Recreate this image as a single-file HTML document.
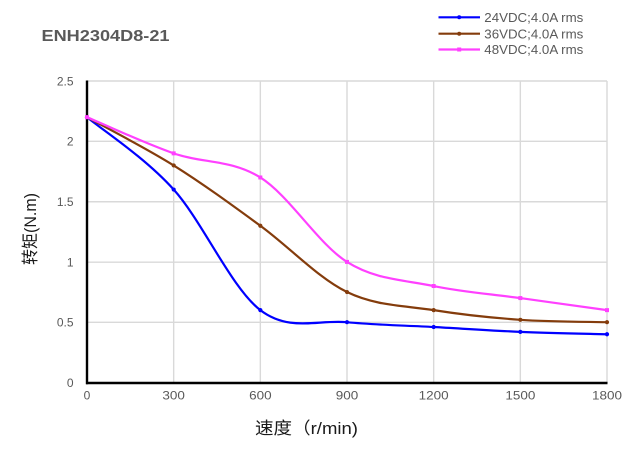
<!DOCTYPE html>
<html>
<head>
<meta charset="utf-8">
<style>
html,body{margin:0;padding:0;background:#fff;}
svg{display:block;}
text{font-family:"Liberation Sans","Noto Sans CJK SC",sans-serif;}
</style>
</head>
<body>
<svg id="chart" width="640" height="450" viewBox="0 0 640 450" xmlns="http://www.w3.org/2000/svg">
<rect width="640" height="450" fill="#fff"/>
<!-- gridlines -->
<g stroke="#d9d9d9" stroke-width="1.4" fill="none">
<line x1="87" y1="81" x2="607" y2="81"/>
<line x1="87" y1="141.3" x2="607" y2="141.3"/>
<line x1="87" y1="201.75" x2="607" y2="201.75"/>
<line x1="87" y1="262.2" x2="607" y2="262.2"/>
<line x1="87" y1="322.3" x2="607" y2="322.3"/>
<line x1="173.67" y1="81" x2="173.67" y2="383"/>
<line x1="260.33" y1="81" x2="260.33" y2="383"/>
<line x1="347" y1="81" x2="347" y2="383"/>
<line x1="433.67" y1="81" x2="433.67" y2="383"/>
<line x1="520.33" y1="81" x2="520.33" y2="383"/>
<line x1="607" y1="81" x2="607" y2="383"/>
</g>
<!-- axes -->
<line x1="87" y1="80.5" x2="87" y2="384.2" stroke="#000" stroke-width="2.4"/>
<line x1="86" y1="383" x2="607.5" y2="383" stroke="#000" stroke-width="2.4"/>
<!-- y tick labels -->
<g fill="#595959" font-size="12" text-anchor="end">
<text x="73.5" y="85.3">2.5</text>
<text x="73.5" y="145.6">2</text>
<text x="73.5" y="206">1.5</text>
<text x="73.5" y="266.4">1</text>
<text x="73.5" y="326.6">0.5</text>
<text x="73.5" y="387.2">0</text>
</g>
<!-- x tick labels -->
<g fill="#595959" font-size="12" text-anchor="middle">
<text x="87" y="399.3">0</text>
<text x="173.67" y="399.3" textLength="22.5" lengthAdjust="spacingAndGlyphs">300</text>
<text x="260.33" y="399.3" textLength="22.5" lengthAdjust="spacingAndGlyphs">600</text>
<text x="347" y="399.3" textLength="22.5" lengthAdjust="spacingAndGlyphs">900</text>
<text x="433.67" y="399.3" textLength="30" lengthAdjust="spacingAndGlyphs">1200</text>
<text x="520.33" y="399.3" textLength="30" lengthAdjust="spacingAndGlyphs">1500</text>
<text x="607" y="399.3" textLength="30" lengthAdjust="spacingAndGlyphs">1800</text>
</g>
<!-- series -->
<g id="series"></g>
<!-- title -->
<text x="41.5" y="41" font-size="16" font-weight="bold" fill="#595959" textLength="128" lengthAdjust="spacingAndGlyphs">ENH2304D8-21</text>
<!-- legend -->
<g stroke-width="2.2">
<line x1="438.5" y1="17.3" x2="480" y2="17.3" stroke="#0000ff"/>
<line x1="438.5" y1="33.7" x2="480" y2="33.7" stroke="#843c0c"/>
<line x1="438.5" y1="49.5" x2="480" y2="49.5" stroke="#ff40ff"/>
</g>
<circle cx="459.2" cy="17.3" r="2" fill="#0000ff"/>
<circle cx="459.2" cy="33.7" r="2" fill="#843c0c"/>
<rect x="457.2" y="47.5" width="4" height="4" fill="#ff40ff"/>
<g fill="#595959" font-size="13">
<text x="484.3" y="21.9" textLength="99" lengthAdjust="spacingAndGlyphs">24VDC;4.0A rms</text>
<text x="484.3" y="38.3" textLength="99" lengthAdjust="spacingAndGlyphs">36VDC;4.0A rms</text>
<text x="484.3" y="54.1" textLength="99" lengthAdjust="spacingAndGlyphs">48VDC;4.0A rms</text>
</g>
<!-- axis titles -->
<text x="255" y="434" font-size="17" fill="#1a1a1a" textLength="103" lengthAdjust="spacingAndGlyphs">速度（r/min)</text>
<text transform="translate(36,265) rotate(-90)" font-size="17" fill="#1a1a1a" textLength="72" lengthAdjust="spacingAndGlyphs">转矩(N.m)</text>
</svg>
<script>
(function(){
  var xs=[0,300,600,900,1200,1500,1800];
  var data=[
    {c:"#0000ff",v:[2.2,1.6,0.6,0.5,0.46,0.42,0.4],m:"c"},
    {c:"#843c0c",v:[2.2,1.8,1.3,0.75,0.6,0.52,0.5],m:"c"},
    {c:"#ff40ff",v:[2.2,1.9,1.7,1.0,0.8,0.7,0.6],m:"s"}
  ];
  function X(v){return 87+v/1800*520;}
  function Y(v){return 382.5-v*120.6;}
  var g=document.getElementById("series");
  var ns="http://www.w3.org/2000/svg";
  data.forEach(function(s){
    var p=xs.map(function(x,i){return [X(x),Y(s.v[i])];});
    var d="M"+p[0][0].toFixed(2)+","+p[0][1].toFixed(2);
    for(var i=0;i<p.length-1;i++){
      var p0=p[Math.max(i-1,0)],p1=p[i],p2=p[i+1],p3=p[Math.min(i+2,p.length-1)];
      var c1=[p1[0]+(p2[0]-p0[0])/6,p1[1]+(p2[1]-p0[1])/6];
      var c2=[p2[0]-(p3[0]-p1[0])/6,p2[1]-(p3[1]-p1[1])/6];
      d+=" C"+c1[0].toFixed(2)+","+c1[1].toFixed(2)+" "+c2[0].toFixed(2)+","+c2[1].toFixed(2)+" "+p2[0].toFixed(2)+","+p2[1].toFixed(2);
    }
    var path=document.createElementNS(ns,"path");
    path.setAttribute("d",d);path.setAttribute("fill","none");
    path.setAttribute("stroke",s.c);path.setAttribute("stroke-width","2.2");
    path.setAttribute("stroke-linejoin","round");
    g.appendChild(path);
    p.forEach(function(q){
      var m;
      if(s.m==="c"){m=document.createElementNS(ns,"circle");m.setAttribute("cx",q[0]);m.setAttribute("cy",q[1]);m.setAttribute("r","2.1");}
      else{m=document.createElementNS(ns,"rect");m.setAttribute("x",q[0]-2);m.setAttribute("y",q[1]-2);m.setAttribute("width","4");m.setAttribute("height","4");}
      m.setAttribute("fill",s.c);
      g.appendChild(m);
    });
  });
})();
</script>
</body>
</html>
